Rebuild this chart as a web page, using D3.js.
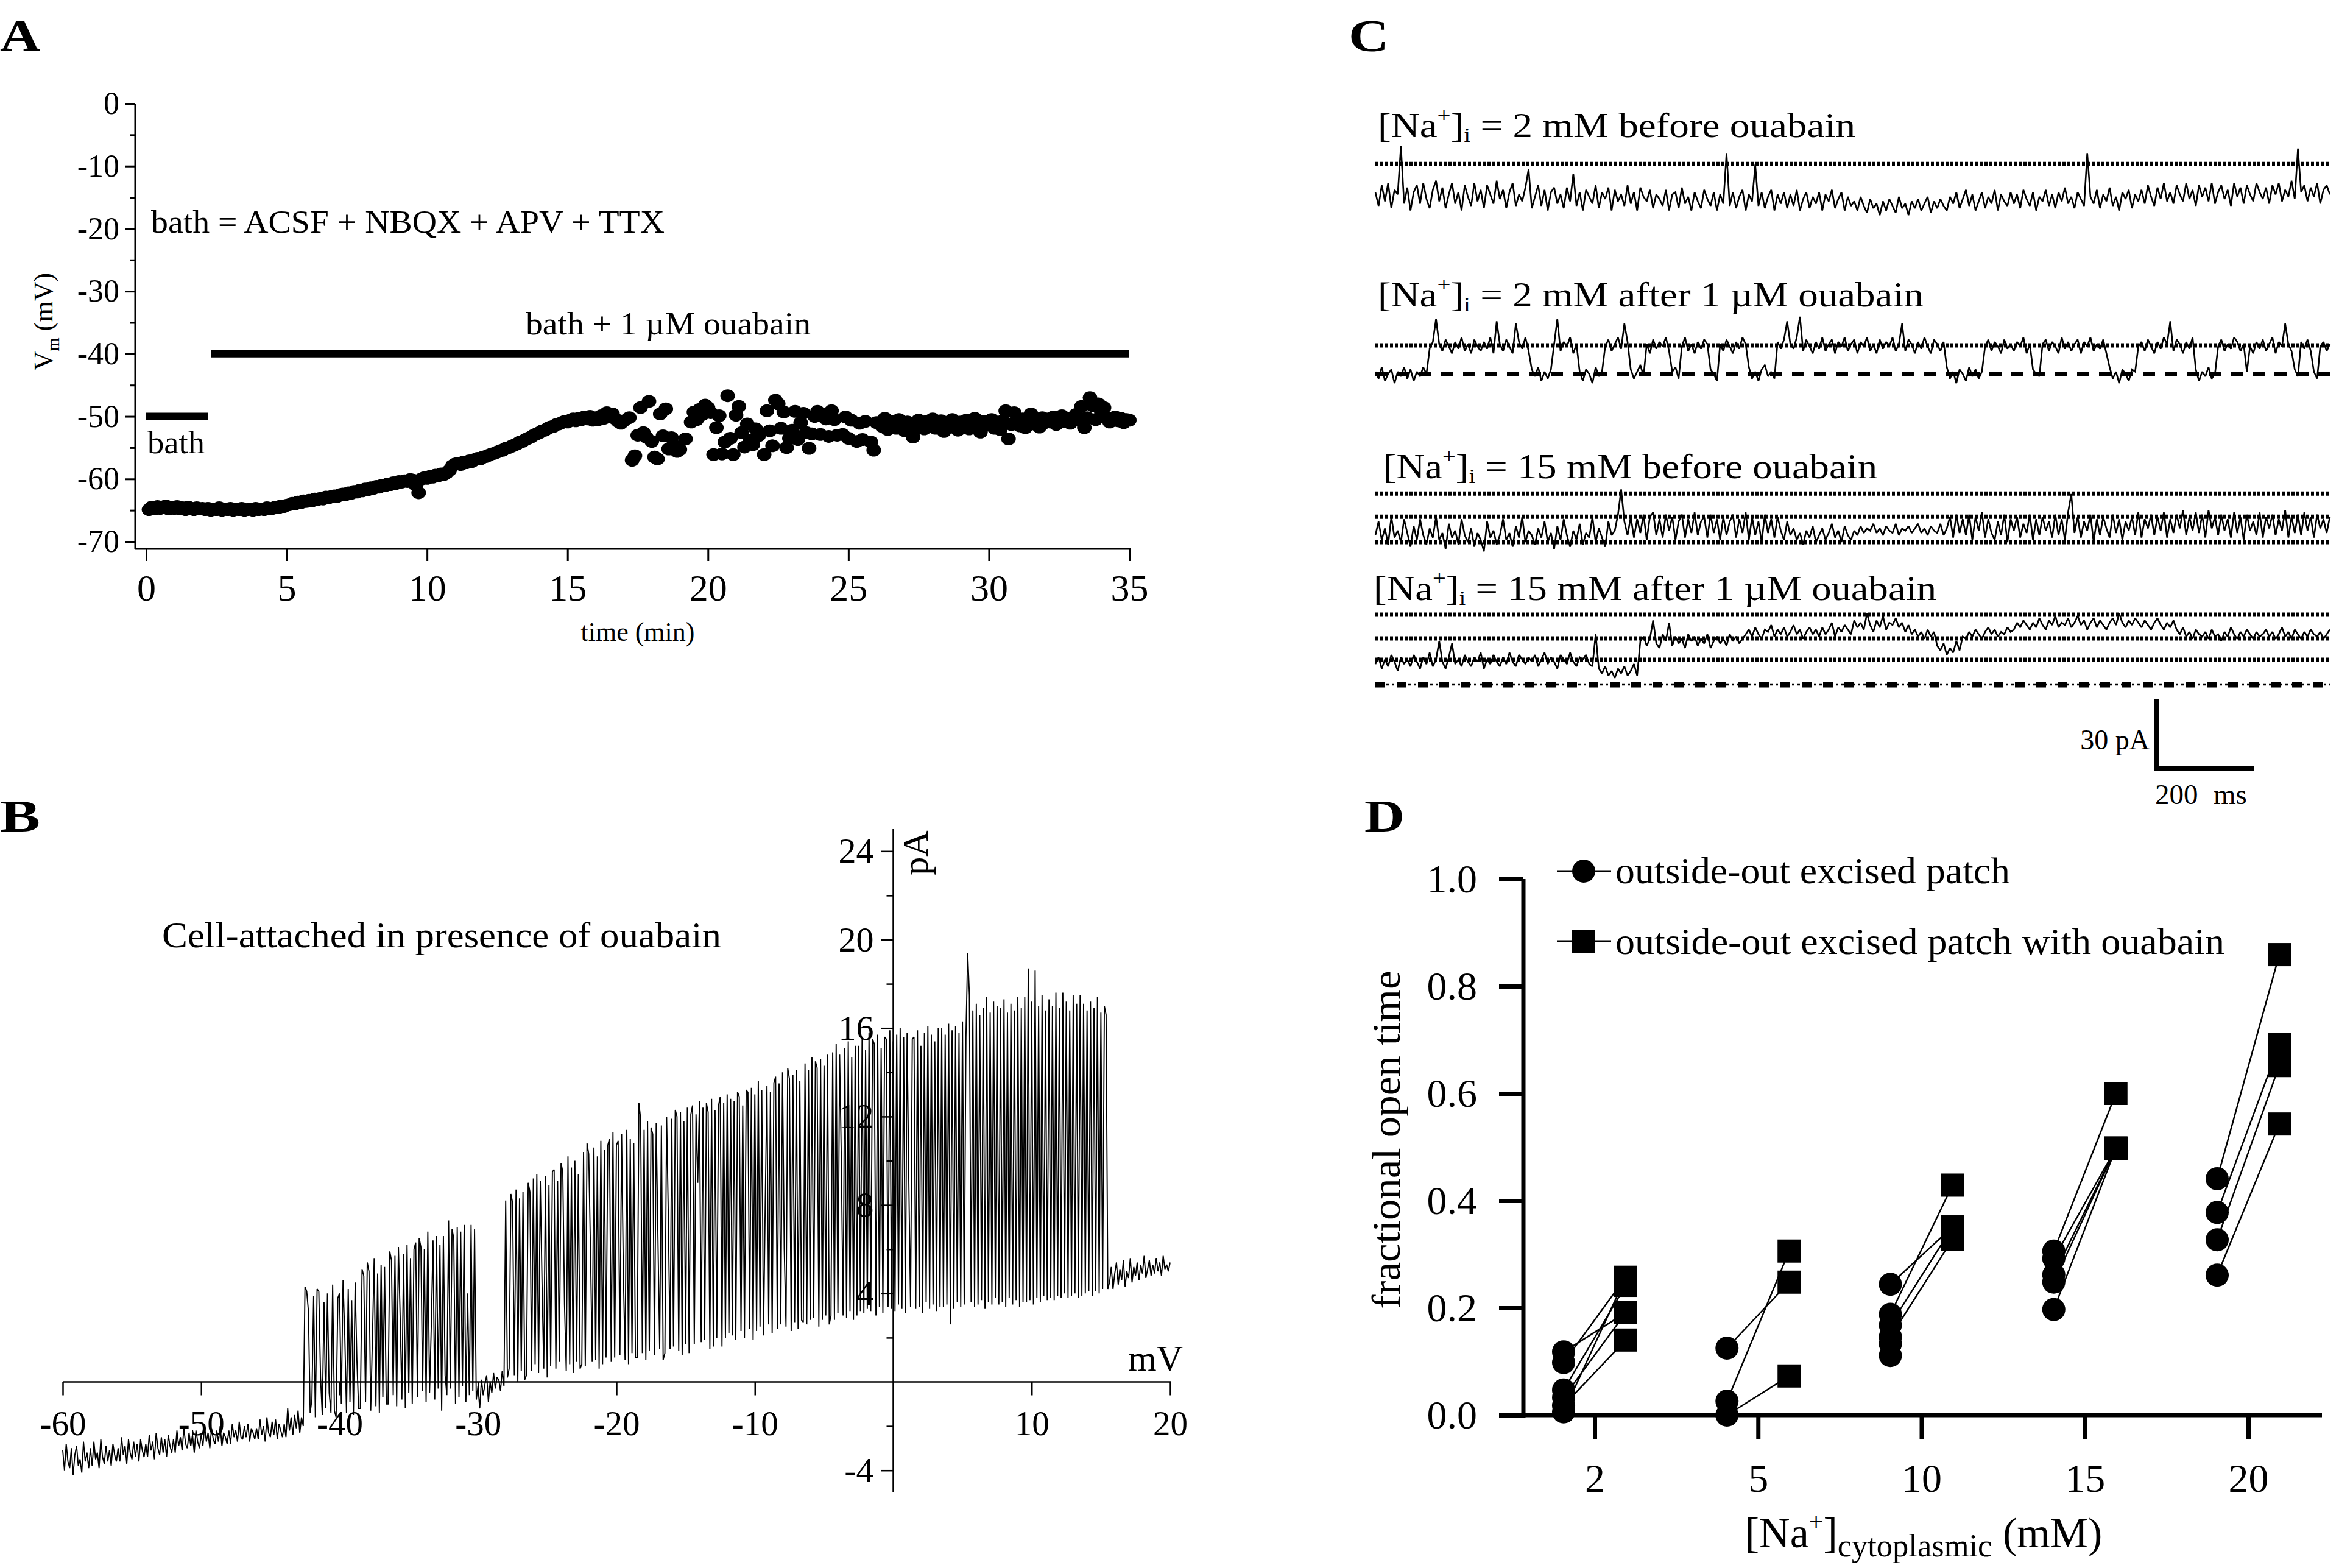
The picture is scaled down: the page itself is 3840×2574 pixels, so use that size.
<!DOCTYPE html>
<html><head><meta charset="utf-8">
<script src="https://cdn.jsdelivr.net/npm/d3@7"></script>
<style>
html,body{margin:0;padding:0;background:#fff;}
svg{display:block;font-family:"Liberation Serif","Times New Roman",serif;}
</style></head><body>
<svg id="fig" width="3840" height="2574"></svg>
<script>
// ---------------- Panel A data ----------------
const aXTicks = [0,5,10,15,20,25,30,35];
const aYTicks = [0,-10,-20,-30,-40,-50,-60,-70];
const aYMinor = [-5,-15,-25,-35,-45,-55,-65];
const aTimeEarly = [
0.1,0.2,0.3,0.4,0.5,0.6,0.7,0.8,0.9,1.0,
1.1,1.2,1.3,1.4,1.5,1.6,1.7,1.8,1.9,2.0,
2.1,2.2,2.3,2.4,2.5,2.6,2.7,2.8,2.9,3.0,
3.1,3.2,3.3,3.4,3.5,3.6,3.7,3.8,3.9,4.0,
4.1,4.2,4.3,4.4,4.5,4.6,4.7,4.8,4.9,5.0,
5.1,5.2,5.3,5.4,5.5,5.6,5.7,5.8,5.9,6.0,
6.1,6.2,6.3,6.4,6.5,6.6,6.7,6.8,6.9,7.0,
7.1,7.2,7.3,7.4,7.5,7.6,7.7,7.8,7.9,8.0,
8.1,8.2,8.3,8.4,8.5,8.6,8.7,8.8,8.9,9.0,
9.1,9.2,9.3,9.4,9.5,9.6,9.7,9.8,9.9,10.0,
10.1,10.2,10.3,10.4,10.5,10.6,10.7,10.8,10.9,11.0,
11.1,11.2,11.3,11.4,11.5,11.6,11.7,11.8,11.9,12.0,
12.1,12.2,12.3,12.4,12.5,12.6,12.7,12.8,12.9,13.0,
13.1,13.2,13.3,13.4,13.5,13.6,13.7,13.8,13.9,14.0,
14.1,14.2,14.3,14.4,14.5,14.6,14.7,14.8,14.9,15.0,
15.1,15.2,15.3,15.4,15.5,15.6,15.7,15.8,15.9,16.0,
16.1,16.2,16.3,16.4,16.5,16.6,16.7,16.8,16.9,17.0];
const aVmEarly = [
-64.9,-64.5,-64.8,-64.4,-64.7,-64.6,-64.3,-64.8,-64.5,-64.7,
-64.4,-64.8,-64.6,-64.9,-64.5,-64.7,-64.9,-64.6,-64.8,-64.7,
-64.9,-64.7,-65.0,-64.8,-64.9,-64.6,-65.0,-64.8,-64.9,-64.7,
-65.0,-64.8,-64.9,-64.7,-65.0,-64.9,-64.8,-65.0,-64.7,-64.9,
-64.8,-64.9,-64.6,-64.8,-64.7,-64.5,-64.6,-64.3,-64.4,-64.2,
-64.1,-63.9,-64.0,-63.7,-63.8,-63.5,-63.6,-63.4,-63.5,-63.2,
-63.3,-63.1,-63.2,-62.9,-63.0,-62.8,-62.7,-62.8,-62.5,-62.4,
-62.5,-62.2,-62.3,-62.0,-62.1,-61.8,-61.9,-61.6,-61.7,-61.4,
-61.5,-61.2,-61.3,-61.0,-61.1,-60.8,-60.9,-60.6,-60.7,-60.4,
-60.5,-60.3,-60.4,-60.1,-60.2,-61.0,-62.2,-60.0,-59.8,-59.9,
-59.6,-59.7,-59.4,-59.5,-59.2,-59.3,-59.0,-58.6,-57.9,-57.6,
-57.5,-57.7,-57.3,-57.4,-57.1,-57.2,-56.9,-56.7,-56.8,-56.5,
-56.4,-56.2,-56.0,-55.9,-55.7,-55.5,-55.4,-55.1,-55.0,-54.8,
-54.6,-54.4,-54.1,-54.0,-53.7,-53.5,-53.3,-53.0,-52.8,-52.6,
-52.3,-52.2,-51.9,-51.7,-51.6,-51.3,-51.2,-51.0,-50.8,-50.9,
-50.6,-50.4,-50.7,-50.3,-50.5,-50.1,-50.4,-50.0,-50.6,-50.2,
-50.5,-49.9,-50.3,-49.4,-50.0,-49.6,-50.4,-50.8,-51.1,-50.7];
const aTimeMid = [17.2,17.3,17.4,17.5,17.6,17.7,17.8,17.9,18.0,18.1,18.2,18.3,18.4,18.5,18.6,18.7,18.8,18.9,19.0,
19.2,19.4,
19.5,19.6,19.7,19.8,19.9,20.0,20.1,20.2,20.3,20.4,20.5,20.6,20.7,20.8,20.9,21.0,21.1,21.2,21.3,21.4,21.5,21.6,21.7,21.8,
22.0,22.1,22.2,22.3,22.4,22.5,22.6,22.7,22.8,22.9,23.0,23.1,23.2,23.3,23.4,23.5,23.6,23.7,23.8,23.9,24.0,24.1,24.2,24.3,24.4,24.5,24.6,
24.8,24.9,25.0,25.1,25.3,25.4,25.5,25.6,25.8,25.9,26.0];
const aVmMid = [-50.2,-57.0,-56.3,-53.0,-48.6,-52.6,-53.3,-47.6,-54.0,-56.5,-56.8,-49.6,-53.1,-48.8,-55.2,-53.4,-54.7,-55.6,-55.3,
-53.6,-50.9,
-49.3,-50.5,-48.9,-49.7,-48.2,-48.6,-49.4,-56.1,-51.8,-49.9,-56.0,-54.1,-46.7,-53.5,-56.1,-49.8,-48.4,-52.6,-54.9,-51.2,-53.8,-54.5,-52.0,-53.1,
-56.1,-49.1,-52.3,-54.7,-47.4,-48.0,-51.9,-49.3,-55.0,-53.5,-52.2,-49.2,-53.7,-51.0,-49.5,-52.6,-55.1,-52.8,-50.0,-49.2,-52.9,-49.6,-50.4,-53.2,-49.1,-50.5,-53.0,
-52.9,-50.1,-53.5,-50.6,-54.0,-51.1,-53.7,-50.8,-54.1,-55.4,-51.0];
const aTimeLate = [
26.1,26.2,26.3,26.4,26.5,26.6,26.7,26.8,26.9,27.0,
27.1,27.2,27.3,27.4,27.5,27.6,27.7,27.8,27.9,28.0,
28.1,28.2,28.3,28.4,28.5,28.6,28.7,28.8,28.9,29.0,
29.1,29.2,29.3,29.4,29.5,29.6,29.7,29.8,29.9,30.0,
30.1,30.2,30.3,30.4,30.5,30.6,30.7,30.8,30.9,31.0,
31.1,31.2,31.3,31.4,31.5,31.6,31.7,31.8,31.9,32.0,
32.1,32.2,32.3,32.4,32.5,32.6,32.7,32.8,32.9,33.0,
33.1,33.2,33.3,33.4,33.5,33.6,33.7,33.8,33.9,34.0,
34.1,34.2,34.3,34.4,34.5,34.6,34.7,34.8,34.9,35.0];
const aVmLate = [
-51.0,-51.6,-50.3,-52.1,-51.2,-50.8,-51.9,-50.5,-51.4,-52.3,
-50.9,-51.7,-53.3,-51.1,-50.6,-51.8,-52.0,-50.8,-51.5,-50.4,
-51.9,-51.2,-50.7,-52.4,-51.0,-51.6,-50.5,-51.8,-52.2,-50.9,
-51.3,-50.6,-52.0,-51.1,-50.3,-51.7,-52.5,-50.8,-51.4,-51.0,
-50.5,-51.9,-51.2,-52.1,-50.7,-49.1,-53.6,-51.3,-49.4,-50.8,
-51.5,-50.4,-51.8,-50.9,-49.6,-51.2,-50.6,-51.7,-50.2,-51.0,
-50.4,-50.9,-50.1,-51.3,-50.6,-49.9,-50.8,-50.3,-51.1,-50.5,
-49.7,-50.6,-48.4,-51.8,-50.2,-47.0,-48.3,-50.5,-48.0,-49.2,
-48.6,-50.2,-50.9,-50.4,-50.1,-50.7,-50.3,-51.0,-50.5,-50.6];
const aBarStart = [0, 2.3];
const aBarEnd = [2.2, 35];
const aBarLevel = [-50, -40];

// ---------------- Panel B data ----------------
// voltage ramp command (mV) from first to last sample; current samples (pA) recorded along the ramp
const bRamp = [-60, 20];
const bXTicks = [-60,-50,-40,-30,-20,-10,10,20];
const bYTicks = [24,20,16,12,8,4,-4];
const bYMinor = [22,18,14,10,6,2,-2];
const bCurrent = [
-3.1,-4.0,-2.8,-3.6,-3.9,-3.0,-4.2,-3.3,-2.9,-3.8,-3.5,-4.1,-2.7,-3.6,-3.2,-3.9,
-3.0,-3.8,-2.7,-3.5,-3.2,-3.9,-2.6,-3.4,-3.7,-2.9,-3.6,-3.1,-3.8,-2.8,-3.3,-3.6,
-3.0,-3.6,-2.5,-3.3,-2.9,-3.7,-2.6,-3.2,-3.5,-2.7,-3.4,-2.8,-3.6,-2.6,-3.1,-3.4,
-2.8,-3.4,-2.4,-3.1,-2.7,-3.5,-2.3,-3.0,-3.3,-2.5,-3.2,-2.6,-3.4,-2.4,-2.9,-3.2,
-2.6,-3.2,-2.2,-2.9,-2.5,-3.1,-2.1,-2.8,-3.0,-2.3,-2.9,-2.4,-3.2,-2.2,-2.7,-3.0,
-2.4,-2.9,-2.0,-2.7,-2.3,-3.0,-2.1,-2.6,-2.8,-2.2,-2.7,-2.0,-2.9,-2.3,-2.5,-2.8,
-2.2,-2.8,-1.9,-2.5,-2.2,-2.7,-1.8,-2.5,-2.6,-2.0,-2.5,-1.9,-2.7,-2.1,-2.3,-2.6,
-2.1,-2.6,-1.7,-2.4,-2.0,-2.7,-1.6,-2.3,-2.5,-1.8,-2.4,-1.7,-2.6,-1.9,-2.2,-2.5,
-1.9,-2.5,-1.2,-2.2,-1.6,-2.4,-1.5,-2.1,-1.3,-2.3,-1.6,-2.0,
4.3,4.1,3.2,-1.4,-0.8,3.9,-1.6,4.2,4.1,0.2,-1.5,3.6,-1.2,4.0,-0.5,-1.4,
4.4,-1.3,-1.6,3.8,4.0,-1.0,4.6,2.1,-1.4,4.2,-0.9,3.7,-1.5,4.5,1.0,-1.2,
-1.2,5.1,4.8,-0.9,5.4,5.0,-1.3,2.0,5.6,-1.1,4.9,-1.4,5.3,-0.7,5.2,-1.0,
-1.0,5.9,5.5,-0.6,5.7,-1.1,6.1,3.0,-0.8,5.8,-1.2,6.2,-0.5,5.6,-1.0,6.0,
6.3,-0.7,6.5,6.1,-0.4,6.0,-0.9,6.8,-0.5,2.5,6.4,-0.8,6.6,-0.3,6.2,-1.3,
6.6,0.3,-0.6,7.3,-0.3,6.9,6.5,-1.0,7.0,-0.7,6.8,-0.2,7.1,-0.9,4.0,-0.6,
7.1,-0.4,6.9,-0.8,-0.2,-1.2,0.1,-0.6,-0.1,0.3,-0.9,0.0,-0.5,0.4,-0.3,0.2,
0.1,-0.4,0.5,-0.2,8.2,0.2,0.6,8.5,8.1,0.3,8.7,0.0,8.3,0.5,8.6,0.1,
0.3,9.0,8.6,0.5,9.2,0.8,9.4,0.4,9.1,4.5,0.6,9.3,0.2,8.9,0.7,9.5,
9.6,0.6,9.1,0.9,9.9,9.5,3.5,0.5,10.2,0.8,9.7,0.4,10.0,0.9,9.4,0.6,
0.8,10.4,0.7,10.8,10.3,6.0,0.9,10.6,1.0,10.2,0.6,10.9,0.8,10.5,1.1,10.7,
11.0,0.9,11.3,1.1,10.7,10.9,1.2,11.2,5.0,1.0,11.4,0.8,11.0,1.3,10.8,1.1,
1.1,12.6,11.9,1.3,11.4,1.0,11.8,1.4,11.5,11.2,1.2,11.7,6.5,1.5,11.6,1.0,
1.3,12.0,7.5,1.5,11.9,1.6,12.3,12.0,1.4,12.2,1.2,11.8,1.7,12.4,1.3,12.1,
12.5,1.7,12.1,9.0,12.7,1.8,12.4,1.9,12.6,12.2,1.5,12.8,1.6,12.3,2.0,12.5,
12.9,1.6,12.6,2.0,13.0,2.2,12.8,2.1,12.7,1.9,13.1,12.9,2.3,12.5,2.0,13.2,
13.1,2.4,13.3,1.9,13.0,2.3,13.6,2.5,13.2,2.1,8.0,13.4,2.6,13.1,2.2,13.5,
13.8,2.4,13.5,2.6,14.0,6.0,2.5,14.2,13.7,2.3,13.9,2.7,14.1,2.4,13.6,2.8,
2.7,14.4,2.6,14.1,2.8,14.7,2.9,14.5,14.2,2.5,14.6,2.8,14.3,3.0,14.8,2.6,
3.0,14.9,2.8,15.3,3.1,14.8,10.0,3.0,15.1,2.9,15.4,3.2,14.7,2.8,15.2,3.0,
15.2,3.2,15.6,3.1,15.0,3.3,15.8,3.2,15.5,15.3,3.0,15.7,3.4,15.1,3.1,15.6,
15.5,3.4,15.9,3.3,15.4,3.2,15.7,3.5,16.0,3.3,15.6,3.1,15.8,9.0,3.4,15.5,
15.6,3.3,15.9,3.4,15.2,3.1,15.8,3.6,16.1,3.3,15.7,3.5,15.4,3.2,16.0,3.4,
16.0,3.4,15.7,3.5,16.2,2.6,15.9,3.3,16.1,3.6,15.8,3.4,16.3,3.5,15.6,19.4,
17.5,3.6,16.8,3.4,17.1,3.5,16.6,3.7,16.9,3.3,17.4,3.6,16.7,3.5,17.2,3.8,
17.0,3.5,16.9,3.6,17.3,3.4,16.7,3.8,17.1,3.5,16.8,3.7,17.4,3.4,16.9,3.6,
17.4,3.6,18.7,3.7,17.2,3.5,18.6,3.8,17.0,3.6,17.5,3.9,16.8,3.7,17.3,3.8,
17.0,3.7,17.6,3.9,16.9,3.8,17.6,4.0,17.2,3.8,16.8,3.9,17.5,4.0,17.1,3.8,
17.5,3.9,17.1,4.0,16.8,4.1,17.2,3.9,16.9,4.1,17.4,4.0,16.7,4.2,17.0,16.6,
4.2,
4.5,5.2,4.2,4.9,5.4,4.4,5.1,4.6,5.5,4.3,5.0,4.7,5.6,4.5,5.2,4.8,5.4,4.6,
5.3,4.9,5.7,4.7,5.1,5.5,4.8,5.3,4.9,5.6,5.0,5.4,4.8,5.7,5.1,5.3,5.0,5.4];

// ---------------- Panel C data (pA, 300 samples over 2 s each) ----------------
const cTitles = ["2 mM before ouabain","2 mM after 1 \u00b5M ouabain","15 mM before ouabain","15 mM after 1 \u00b5M ouabain"];
const cTrace1 = [
2,-4,5,-2,6,-5,3,1,22,-3, 4,-6,2,5,-3,6,-1,-5,3,7, -2,4,-5,1,6,-3,2,-6,5,0, -4,6,-2,3,-5,5,1,-3,7,-1,
3,-5,2,6,-4,1,-2,4,12,-5, 0,5,-4,3,-6,2,4,-3,1,-5, 4,-2,10,-4,2,-6,3,0,-3,5, -5,2,-1,4,-6,3,-2,1,-4,5,
-3,2,-6,4,0,-2,3,-5,1,-1, -4,3,-6,1,2,-5,4,-3,0,-6, 2,-2,-5,3,-1,-4,2,-6,1,-3, 19,-4,2,-5,0,3,-6,1,-2,14,
-4,2,-5,0,3,-6,1,-3,2,-5, 1,-4,3,-6,-1,2,-5,0,-3,2, -6,1,-2,3,-5,-1,2,-6,0,-4, -2,-6,0,-4,-7,-1,-5,-3,-8,-2,
-6,-1,-4,-7,0,-5,-3,-8,-2,-5, -1,-6,-3,0,-7,-2,-5,-1,-4,-6, 0,-3,2,-5,-1,3,-4,1,-6,-2, 2,-5,0,-3,3,-6,1,-2,-4,2,
-3,1,-5,3,-1,-4,2,-6,0,-2, 3,-4,1,-5,2,-2,4,-3,0,-5, 2,-1,-4,19,0,-3,3,-5,1,-2, 4,-4,0,-6,2,-1,3,-5,1,-2,
3,-3,5,0,-4,4,-1,6,-2,2, -3,5,1,-2,6,-1,3,-4,5,0, 4,-2,6,-3,2,5,-1,3,-4,6, 0,4,-3,5,1,-2,6,2,-1,4,
-3,5,1,6,-2,3,0,7,-1,21, 2,5,-2,4,0,6,-3,3,5,1];
const cTrace2 = [
1,-2,3,-3,0,2,-4,1,-1,3, -2,2,-3,1,-1,3,0,11,14,24, 13,10,15,12,9,14,11,16,10,13, 9,15,12,10,14,11,16,9,23,13,
10,15,12,9,22,14,11,16,10,2, -1,3,-3,1,-2,2,13,24,10,14, 12,16,9,13,1,-3,2,0,-4,3, -1,1,12,15,10,13,16,11,22,14,
2,-2,1,4,-1,13,9,15,11,14, 12,16,10,1,3,-2,12,16,10,13, 9,14,11,15,13,2,0,-3,13,10, 15,12,9,14,11,16,13,3,-2,1,
-3,2,4,-1,1,-2,14,11,15,23, 13,11,16,25,10,15,12,9,14,11, 16,10,13,15,9,14,12,16,10,13, 15,9,14,12,16,10,13,9,15,11,
14,12,16,10,13,22,10,15,13,9, 14,11,16,12,9,15,13,10,14,3, -2,1,-4,2,0,-3,3,-1,2,-2, 1,12,15,10,14,12,9,15,11,13,
10,14,12,16,9,13,2,0,-1,13, 15,10,14,12,9,16,11,14,10,13, 15,9,14,12,16,10,13,11,15,9, 3,-2,1,-4,2,0,-3,2,1,12,
14,10,15,12,9,14,11,16,13,23, 10,15,13,9,14,11,16,2,-3,1, -1,3,-2,0,12,15,10,13,11,16, 14,10,13,1,12,9,14,11,15,10,
13,16,9,14,12,22,13,10,2,-1, 14,11,15,10,1,-2,12,14,10,13];
const cTrace3 = [
3,9,1,6,-1,11,2,5,0,10, 4,-2,7,1,10,3,-1,6,2,11, 1,4,-3,8,2,5,-1,10,3,0, 6,-2,4,1,-4,9,2,5,-1,3,
10,1,4,-2,7,2,11,0,5,3, -1,6,2,9,0,4,-3,7,1,10, 3,-2,5,1,8,-1,4,2,11,0, 6,2,-2,9,3,5,12,23,9,3,
11,2,10,4,12,1,11,13,3,10, 2,12,5,11,1,9,12,2,10,4, 13,3,9,11,2,12,4,10,1,11, 3,9,12,2,10,4,13,1,11,3,
9,0,12,4,10,2,11,5,1,9, 3,6,1,4,-1,5,2,7,0,3, 6,1,4,8,2,5,0,7,3,1, 5,3,7,4,6,5,8,4,6,3,
7,5,4,8,3,6,5,7,4,6, 8,4,6,3,7,5,4,8,3,6, 11,2,12,4,10,3,12,1,11,5, 13,2,10,4,1,9,3,12,0,10,
5,11,2,8,4,12,1,10,3,11, 5,9,2,12,3,10,1,13,21,4, 11,2,9,5,12,0,10,3,11,6, 2,12,4,10,1,9,5,11,3,13,
2,10,6,12,3,11,5,13,2,10, 4,12,6,14,3,11,5,13,4,12, 2,14,6,11,3,12,5,10,2,13, 4,11,1,12,5,9,3,13,2,11,
6,12,3,10,5,14,2,11,4,12, 3,13,5,11,2,12,6,10,4,11];
const cTrace4 = [
9,12,7,11,8,13,10,6,12,9, 11,8,13,10,7,12,9,14,8,11, 19,10,7,12,18,9,11,8,13,10, 8,12,10,14,7,11,9,13,10,8,
12,9,14,10,8,13,11,9,12,10, 13,8,11,14,9,12,10,7,13,11, 9,14,10,8,12,11,13,9,8,22, 7,5,8,4,6,3,7,5,8,4,
6,9,4,19,21,17,20,28,18,16, 22,19,27,17,21,18,20,16,22,19, 21,17,20,18,22,16,19,21,18,20, 17,22,19,21,18,20,22,24,21,25,
22,20,24,23,26,21,24,22,25,21, 23,26,22,24,20,23,25,22,24,21, 25,22,24,27,21,25,23,26,24,22, 28,25,27,24,31,26,23,28,25,30,
24,27,26,29,25,27,23,26,22,24, 21,23,20,24,21,23,17,15,18,13, 16,14,19,15,21,20,23,21,24,22, 20,23,25,22,24,21,23,22,25,23,
24,27,25,28,26,24,27,25,29,26, 24,28,26,30,25,27,26,29,25,27, 30,26,28,24,27,29,25,28,26,24, 27,29,26,31,27,25,28,26,29,27,
25,28,26,24,27,29,26,24,27,25, 28,24,22,25,21,23,20,24,22,21, 23,20,24,21,22,19,23,21,25,22, 20,23,21,24,22,20,23,21,22,24,
21,23,20,22,25,21,23,20,24,22, 20,23,21,24,22,21,23,20,22,24];
const cDotted = [[14.3],[12.5],[0,11.1,21.2],[10.9,20.2,30.5]];
const cDashed = [[],[0],[],[]];
const cDashDot = [[],[],[],[0]];

// ---------------- Panel D data ----------------
const dCategories = ["2","5","10","15","20"];
const dYTicks = [0,0.2,0.4,0.6,0.8,1.0];
const dConc = ["2","2","2","2","2","2","5","5","5","10","10","10","10","10","10","15","15","15","15","15","20","20","20","20","20"];
const dControl = [0.118,0.098,0.047,0.033,0.018,0.006, 0.125,0.026,0.0, 0.244,0.188,0.168,0.146,0.133,0.111, 0.306,0.292,0.262,0.248,0.197, 0.441,0.378,0.327,0.261,null];
const dOuabain = [0.191,0.257,0.242,0.191,0.140,0.257, 0.248,0.306,0.073, 0.351,0.429,0.351,0.328,null,null, 0.600,0.498,0.498,0.498,0.498, 0.859,0.691,0.652,0.543,0.669];
const dLegend = ["outside-out excised patch","outside-out excised patch with ouabain"];

// ---------------- drawing ----------------
const svg = d3.select("#fig");
svg.append("rect").attr("width",3840).attr("height",2574).attr("fill","#fff");
const FONT = '"Liberation Serif","Times New Roman",serif';

function styleAxis(g, size, sw) {
  g.attr("font-family", null).attr("font-size", null);
  g.selectAll("text").attr("font-size", size).attr("fill", "#000").style("font-family", FONT);
  g.selectAll("line").attr("stroke", "#000").attr("stroke-width", sw);
  g.select(".domain").remove();
}
function richText(parent, x, y, size, parts, opts) {
  opts = opts || {};
  const t = parent.append("text").attr("x", x).attr("y", y).attr("font-size", size).attr("fill", "#000");
  if (opts.anchor) t.attr("text-anchor", opts.anchor);
  if (opts.transform) t.attr("transform", opts.transform);
  if (opts.length) t.attr("textLength", opts.length).attr("lengthAdjust", "spacingAndGlyphs");
  let shift = 0;
  parts.forEach(p => {
    const ts = t.append("tspan").text(p.t);
    let target = 0, fs = size;
    if (p.sup) { target = -size * (p.rise || 0.42); fs = size * (p.scale || 0.6); }
    if (p.sub) { target = size * (p.drop || 0.2); fs = size * (p.scale || 0.6); }
    ts.attr("font-size", fs);
    const dy = target - shift;
    if (dy !== 0) ts.attr("dy", dy);
    shift = target;
  });
  return t;
}
function hline(g, x1, x2, y, sw) {
  return g.append("line").attr("x1", x1).attr("x2", x2).attr("y1", y).attr("y2", y).attr("stroke", "#000").attr("stroke-width", sw);
}
function vline(g, x, y1, y2, sw) {
  return g.append("line").attr("x1", x).attr("x2", x).attr("y1", y1).attr("y2", y2).attr("stroke", "#000").attr("stroke-width", sw);
}

// Panel letters
[["A",0,83],["B",0,1365],["C",2214,84],["D",2240,1365]].forEach(d => {
  svg.append("text").attr("x", d[1]).attr("y", d[2]).attr("font-size", 74).attr("font-weight", "bold")
    .attr("textLength", 66).attr("lengthAdjust", "spacingAndGlyphs").text(d[0]);
});

// ===== Panel A =====
const gA = svg.append("g");
const xA = d3.scaleLinear().domain([0, 35]).range([240, 1854]);
const yA = d3.scaleLinear().domain([-70, 0]).range([889, 170]);
vline(gA, 222, 170, 902, 3);
hline(gA, 221, 1856, 901, 3);
const ayMaj = gA.append("g").attr("transform", "translate(222,0)")
  .call(d3.axisLeft(yA).tickValues(aYTicks).tickSize(16).tickPadding(10).tickFormat(d => String(d)));
styleAxis(ayMaj, 52, 3);
const ayMin = gA.append("g").attr("transform", "translate(222,0)")
  .call(d3.axisLeft(yA).tickValues(aYMinor).tickSize(8).tickFormat(""));
styleAxis(ayMin, 10, 3);
const axA = gA.append("g").attr("transform", "translate(0,901)")
  .call(d3.axisBottom(xA).tickValues(aXTicks).tickSize(20).tickPadding(21).tickFormat(d => String(d)));
styleAxis(axA, 62, 3);
richText(gA, 0, 0, 44, [{t:"V"},{t:"m", sub:true, drop:0.25, scale:0.65},{t:" (mV)"}], {anchor:"middle", transform:"translate(86,528) rotate(-90)"});
gA.append("text").attr("x", 1047).attr("y", 1052).attr("text-anchor", "middle").attr("font-size", 44).text("time (min)");
gA.append("text").attr("x", 248).attr("y", 382).attr("font-size", 52).attr("textLength", 843).attr("lengthAdjust", "spacingAndGlyphs").text("bath = ACSF + NBQX + APV + TTX");
gA.append("text").attr("x", 863).attr("y", 549).attr("font-size", 52).attr("textLength", 468).attr("lengthAdjust", "spacingAndGlyphs").text("bath + 1 \u00b5M ouabain");
gA.append("text").attr("x", 242).attr("y", 744).attr("font-size", 52).attr("textLength", 94).attr("lengthAdjust", "spacingAndGlyphs").text("bath");
aBarStart.forEach((s, i) => {
  gA.append("line").attr("x1", xA(s)).attr("x2", xA(aBarEnd[i])).attr("y1", yA(aBarLevel[i])).attr("y2", yA(aBarLevel[i]))
    .attr("stroke", "#000").attr("stroke-width", 12);
});
const aTime = aTimeEarly.concat(aTimeMid, aTimeLate);
const aVm = aVmEarly.concat(aVmMid, aVmLate);
const aPts = aTime.map((t, i) => ({t: t, v: aVm[i]})).filter(d => d.v !== undefined);
gA.append("g").selectAll("ellipse").data(aPts).join("ellipse")
  .attr("cx", d => xA(d.t)).attr("cy", d => yA(d.v)).attr("rx", 12).attr("ry", 10.5).attr("fill", "#000");

// ===== Panel B =====
const gB = svg.append("g");
const xB = d3.scaleLinear().domain([-60, 20]).range([103, 1921]);
const yB = d3.scaleLinear().domain([-5, 25]).range([2450, 1361]);
const rampB = d3.scaleLinear().domain([0, bCurrent.length - 1]).range(bRamp);
const x0B = xB(0), y0B = yB(0);
hline(gB, 103, 1922, y0B, 2.5);
vline(gB, x0B, 1361, 2450, 2.5);
const axB = gB.append("g").attr("transform", `translate(0,${y0B})`)
  .call(d3.axisBottom(xB).tickValues(bXTicks).tickSize(22).tickPadding(25).tickFormat(d => String(d)));
styleAxis(axB, 57, 2.5);
const ayB = gB.append("g").attr("transform", `translate(${x0B},0)`)
  .call(d3.axisLeft(yB).tickValues(bYTicks).tickSize(20).tickPadding(12).tickFormat(d => String(d)));
styleAxis(ayB, 58, 2.5);
const ayBm = gB.append("g").attr("transform", `translate(${x0B},0)`)
  .call(d3.axisLeft(yB).tickValues(bYMinor).tickSize(11).tickFormat(""));
styleAxis(ayBm, 10, 2.5);
gB.append("text").attr("transform", "translate(1523,1400) rotate(-90)").attr("text-anchor", "middle").attr("font-size", 60).text("pA");
gB.append("text").attr("x", 1942).attr("y", 2250).attr("text-anchor", "end").attr("font-size", 60).text("mV");
gB.append("text").attr("x", 266).attr("y", 1555).attr("font-size", 60).attr("textLength", 918).attr("lengthAdjust", "spacingAndGlyphs").text("Cell-attached in presence of ouabain");
gB.append("path").datum(bCurrent)
  .attr("d", d3.line().x((d, i) => xB(rampB(i))).y(d => yB(d)))
  .attr("fill", "none").attr("stroke", "#000").attr("stroke-width", 1.9).attr("stroke-linejoin", "miter").attr("stroke-miterlimit", 2);

// ===== Panel C =====
const gC = svg.append("g");
const cTraces = [cTrace1, cTrace2, cTrace3, cTrace4];
const cBase = [323, 614, 890, 1124];
const cTitleX = [2262, 2262, 2271, 2255];
const cTitleY = [225, 503, 785, 985];
const cTitleW = [784, 896, 811, 924];
const xC = d3.scaleLinear().domain([0, cTrace1.length - 1]).range([2258, 3825]);
cTraces.forEach((tr, k) => {
  const yC = d3.scaleLinear().domain([0, 30]).range([cBase[k], cBase[k] - 113]);
  richText(gC, cTitleX[k], cTitleY[k], 56,
    [{t:"[Na"},{t:"+", sup:true, rise:0.45, scale:0.6},{t:"]"},{t:"i", sub:true, drop:0.15, scale:0.6},{t:" = " + cTitles[k]}],
    {length: cTitleW[k]});
  cDotted[k].forEach(l => {
    hline(gC, 2258, 3825, yC(l), 7).attr("stroke-dasharray", "5,3");
  });
  cDashed[k].forEach(l => {
    hline(gC, 2258, 3825, yC(l), 8).attr("stroke-dasharray", "20,16");
  });
  cDashDot[k].forEach(l => {
    hline(gC, 2258, 3825, yC(l), 2.5).attr("stroke-dasharray", "4,5");
    hline(gC, 2258, 3825, yC(l), 9).attr("stroke-dasharray", "16,19");
  });
  gC.append("path").datum(tr)
    .attr("d", d3.line().x((d, i) => xC(i)).y(d => yC(d)))
    .attr("fill", "none").attr("stroke", "#000").attr("stroke-width", 2.6).attr("stroke-miterlimit", 2);
});
// scale bar
gC.append("path").attr("d", "M3541,1152 V1262 H3697").attr("fill", "none").attr("stroke", "#000").attr("stroke-width", 8).attr("stroke-linecap", "square");
gC.append("text").attr("x", 3529).attr("y", 1230).attr("text-anchor", "end").attr("font-size", 46).text("30 pA");
gC.append("text").attr("x", 3538).attr("y", 1320).attr("font-size", 47).text("200");
gC.append("text").attr("x", 3634).attr("y", 1320).attr("font-size", 47).text("ms");

// ===== Panel D =====
const gD = svg.append("g");
const xD = d3.scalePoint().domain(dCategories).range([2618, 3691]);
const yD = d3.scaleLinear().domain([0, 1]).range([2323, 1443]);
const dOff = 51;
vline(gD, 2501, 1443, 2327, 7);
hline(gD, 2461, 3812, 2323, 7);
const ayD = gD.append("g").attr("transform", "translate(2501,0)")
  .call(d3.axisLeft(yD).tickValues(dYTicks).tickSize(40).tickPadding(36).tickFormat(d3.format(".1f")));
styleAxis(ayD, 66, 7);
const axD = gD.append("g").attr("transform", "translate(0,2323)")
  .call(d3.axisBottom(xD).tickSize(39).tickPadding(40));
styleAxis(axD, 66, 7);
gD.append("text").attr("transform", "translate(2298,1871) rotate(-90)").attr("text-anchor", "middle")
  .attr("font-size", 66).attr("textLength", 555).attr("lengthAdjust", "spacingAndGlyphs").text("fractional open time");
richText(gD, 3158, 2540, 70,
  [{t:"[Na"},{t:"+", sup:true, rise:0.40, scale:0.6},{t:"]"},{t:"cytoplasmic", sub:true, drop:0.22, scale:0.75},{t:" (mM)"}],
  {anchor:"middle"});
const dRows = dConc.map((c, i) => ({c: c, a: dControl[i], b: dOuabain[i]}));
gD.append("g").selectAll("line").data(dRows.filter(d => d.a !== null && d.b !== null)).join("line")
  .attr("x1", d => xD(d.c) - dOff).attr("y1", d => yD(d.a))
  .attr("x2", d => xD(d.c) + dOff).attr("y2", d => yD(d.b))
  .attr("stroke", "#000").attr("stroke-width", 2.5);
gD.append("g").selectAll("circle").data(dRows.filter(d => d.a !== null)).join("circle")
  .attr("cx", d => xD(d.c) - dOff).attr("cy", d => yD(d.a)).attr("r", 19).attr("fill", "#000");
gD.append("g").selectAll("rect").data(dRows.filter(d => d.b !== null)).join("rect")
  .attr("x", d => xD(d.c) + dOff - 19).attr("y", d => yD(d.b) - 19).attr("width", 38).attr("height", 38).attr("fill", "#000");
// legend
hline(gD, 2556, 2645, 1430, 3);
gD.append("circle").attr("cx", 2600).attr("cy", 1430).attr("r", 19).attr("fill", "#000");
gD.append("text").attr("x", 2652).attr("y", 1450).attr("font-size", 62).attr("textLength", 648).attr("lengthAdjust", "spacingAndGlyphs").text(dLegend[0]);
hline(gD, 2556, 2645, 1545, 3);
gD.append("rect").attr("x", 2581).attr("y", 1526).attr("width", 38).attr("height", 38).attr("fill", "#000");
gD.append("text").attr("x", 2652).attr("y", 1566).attr("font-size", 62).attr("textLength", 1000).attr("lengthAdjust", "spacingAndGlyphs").text(dLegend[1]);
</script>
</body></html>
